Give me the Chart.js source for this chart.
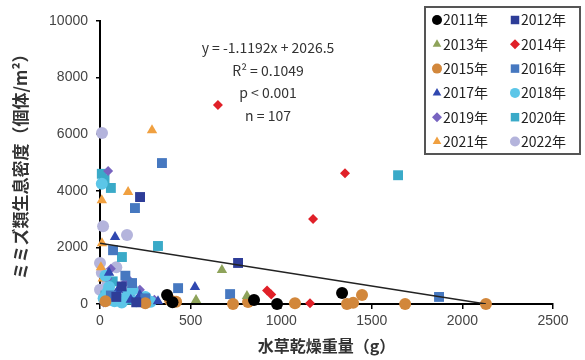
<!DOCTYPE html>
<html>
<head>
<meta charset="utf-8">
<script src="https://cdn.jsdelivr.net/npm/chart.js@4.4.1/dist/chart.umd.min.js"></script>
<style>
  html, body { margin: 0; padding: 0; background: #fff; }
</style>
</head>
<body>
<canvas id="chart" width="585" height="360"></canvas>
<script>
// values: [水草乾燥重量 g, 生息密度 個体/m2]
const years = ["2011年", "2012年", "2013年", "2014年", "2015年", "2016年",
               "2017年", "2018年", "2019年", "2020年", "2021年", "2022年"];
const colors = ["#000000", "#2e3d98", "#8ea35a", "#e02028", "#d2873b", "#4678c0",
                "#3048b0", "#5cc6e8", "#7864c0", "#3aaac8", "#f0a040", "#b4b4dc"];
const styles = ["circle", "rect", "triangle", "rectRot", "circle", "rect",
                "triangle", "circle", "rectRot", "rect", "triangle", "circle"];

const pts2011 = [[370, 320], [400, 60], [850, 140], [977, 0], [1336, 390]];
const pts2012 = [[221, 3780], [762, 1450], [120, 620], [200, 60], [90, 250]];
const pts2013 = [[673, 1200], [530, 140], [811, 280]];
const pts2014 = [[651, 7030], [1352, 4620], [1176, 3000], [922, 480], [945, 340], [1159, 30]];
const pts2015 = [[386, 140], [420, 80], [734, 0], [817, 70], [1076, 30], [1363, 0],
                 [1397, 40], [1446, 320], [1684, 0], [2130, 0], [30, 100], [250, 30]];
const pts2016 = [[342, 4980], [193, 3390], [72, 1900], [431, 560], [718, 350],
                 [1871, 250], [177, 740], [60, 300], [250, 200], [140, 1000]];
const pts2017 = [[83, 2370], [524, 600], [100, 500], [220, 320], [320, 100], [50, 1100], [170, 150]];
const pts2018 = [[20, 200], [50, 600], [80, 100], [120, 50], [150, 300], [200, 100],
                 [250, 250], [30, 1000], [280, 80], [10, 4250], [40, 400], [180, 500]];
const pts2019 = [[40, 900], [90, 400], [130, 700], [180, 200], [220, 500], [60, 1250],
                 [300, 150], [110, 250], [20, 50], [45, 4700], [160, 850]];
const pts2020 = [[10, 4600], [60, 4100], [320, 2050], [121, 1660], [30, 300],
                 [150, 150], [250, 80], [1645, 4550], [25, 4400], [70, 800]];
const pts2021 = [[287, 6140], [155, 3960], [10, 3670], [11, 2150], [5, 1300], [15, 900]];
const pts2022 = [[11, 6040], [17, 2750], [149, 2440], [0, 1450], [10, 1100],
                 [40, 800], [0, 500], [60, 150], [90, 1300]];
const allPts = [pts2011, pts2012, pts2013, pts2014, pts2015, pts2016,
                pts2017, pts2018, pts2019, pts2020, pts2021, pts2022];

// trend line endpoints as drawn in the picture
const trendX = [0, 2130];
const trendY = [2150, 0];

const statLines = ["y = -1.1192x + 2026.5", "R\u00b2 = 0.1049", "p < 0.001", "n = 107"];

const datasets = years.map((label, i) => ({
    label: label,
    data: allPts[i].map(p => ({ x: p[0], y: p[1] })),
    backgroundColor: colors[i],
    borderColor: colors[i],
    pointStyle: styles[i],
    pointRadius: styles[i] === "rectRot" ? 5 : (styles[i] === "rect" ? 7 : 6),
    pointBorderWidth: 0,
    clip: false,
    order: 1
}));
datasets.push({
    label: "trend",
    type: "line",
    data: trendX.map((x, i) => ({ x: x, y: trendY[i] })),
    borderColor: "#222",
    borderWidth: 1.5,
    pointRadius: 0,
    fill: false,
    order: 0
});

const legendBox = {
    id: "legendBox",
    afterDraw(chart) {
        const ctx = chart.ctx;
        ctx.save();
        ctx.strokeStyle = "#555";
        ctx.lineWidth = 2;
        ctx.fillStyle = "#fff";
        ctx.fillRect(425, 7, 155, 147);
        ctx.strokeRect(425, 7, 155, 147);
        ctx.font = "14px 'Noto Sans CJK JP'";
        ctx.textBaseline = "middle";
        years.forEach((label, i) => {
            const col = i % 2, row = Math.floor(i / 2);
            const px = col === 0 ? 437 : 515;
            const py = 20 + row * 24.3;
            ctx.fillStyle = colors[i];
            ctx.strokeStyle = colors[i];
            Chart.helpers.drawPoint(ctx, {
                pointStyle: styles[i], rotation: 0,
                radius: styles[i] === "rect" ? 6 : 5, borderWidth: 0
            }, px, py);
            ctx.fillStyle = "#222";
            ctx.fillText(label, px + 6, py);
        });
        // regression text
        ctx.font = "14px 'Noto Sans CJK JP'";
        ctx.textAlign = "center";
        ctx.fillStyle = "#333";
        statLines.forEach((t, i) => ctx.fillText(t, 268, 48 + i * 22.5));
        ctx.restore();
    }
};

new Chart(document.getElementById("chart"), {
    type: "scatter",
    data: { datasets: datasets },
    options: {
        responsive: false,
        animation: false,
        layout: { padding: { top: 21, right: 32, left: 6, bottom: 0 } },
        plugins: { legend: { display: false }, tooltip: { enabled: false } },
        scales: {
            x: {
                type: "linear", min: 0, max: 2500,
                ticks: { stepSize: 500, color: "#444", font: { size: 14, family: "'Liberation Sans'" }, padding: 4,
                         callback: v => String(v) },
                grid: { drawOnChartArea: false, tickLength: 5, color: "#000", lineWidth: 1.5 },
                border: { color: "#000", width: 2 },
                title: { display: true, text: "水草乾燥重量（g）", color: "#333",
                         font: { size: 16, weight: "bold", family: "'Noto Sans CJK JP'" }, padding: { top: 1 } },
                afterFit(scale) { scale.height = 56; }
            },
            y: {
                min: 0, max: 10000,
                ticks: { stepSize: 2000, color: "#444", font: { size: 14, family: "'Liberation Sans'" }, padding: 8,
                         callback: v => String(v) },
                grid: { drawOnChartArea: false, tickLength: 4, color: "#000", lineWidth: 1.5 },
                border: { color: "#000", width: 2 },
                title: { display: true, text: "ミミズ類生息密度（個体/m²）", color: "#333",
                         font: { size: 17, weight: "bold", family: "'Noto Sans CJK JP'" }, padding: { bottom: 4 } },
                afterFit(scale) { scale.width = 94; }
            }
        }
    },
    plugins: [legendBox]
});
</script>
</body>
</html>
